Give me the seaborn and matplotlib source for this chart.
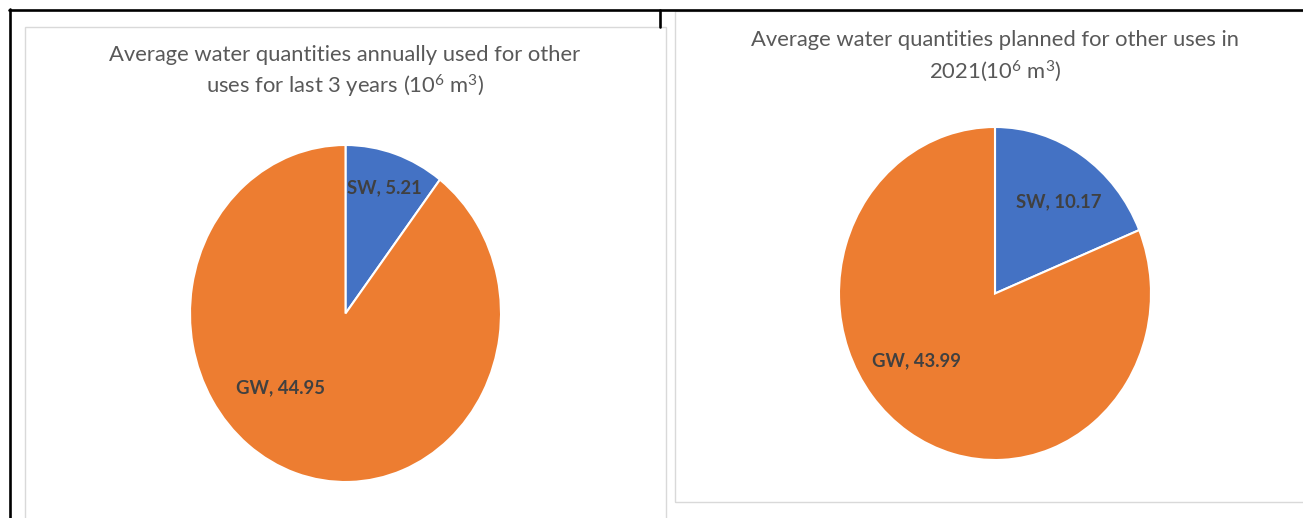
import matplotlib
matplotlib.use("Agg")
import matplotlib.pyplot as plt
from matplotlib.patches import Rectangle
from matplotlib.lines import Line2D
import seaborn as sns

sns.set_theme(style="white")
plt.rcParams["font.family"] = ["Lato", "DejaVu Sans"]
plt.rcParams["mathtext.fontset"] = "custom"
plt.rcParams["mathtext.rm"] = "Lato"
plt.rcParams["mathtext.default"] = "regular"

# Data
categories = ["SW", "GW"]
used_last_3_years = [5.21, 44.95]
planned_2021 = [10.17, 43.99]
titles = [
    ["Average water quantities annually used for other",
     "uses for last 3 years (10$^{6}$ m$^{3}$)"],
    ["Average water quantities planned for other uses in",
     "2021(10$^{6}$ m$^{3}$)"],
]

palette = sns.color_palette(["#4472C4", "#ED7D31"])

W, H = 1303, 518
fig = plt.figure(figsize=(W / 100, H / 100), dpi=100)
fig.patch.set_facecolor("white")


def fx(px):
    return px / W


def fy(py):
    return 1 - py / H


# Outer frame lines
fig.add_artist(Line2D([fx(9), fx(1303)], [fy(10), fy(10)], color="black", lw=1.9))
fig.add_artist(Line2D([fx(10), fx(10)], [fy(9), fy(520)], color="black", lw=1.9))
fig.add_artist(Line2D([fx(660), fx(660)], [fy(10), fy(27)], color="black", lw=1.9))

# Chart area borders
fig.add_artist(Rectangle((fx(24.5), fy(530)), fx(666) - fx(24.5), fy(26.5) - fy(530),
                         fill=False, edgecolor="#D9D9D9", lw=1.0))
fig.add_artist(Rectangle((fx(674.5), fy(502)), fx(1310) - fx(674.5), fy(11) - fy(502),
                         fill=False, edgecolor="#D9D9D9", lw=1.0))

# Pie layout (pixel boxes) and label placement inside each pie
pie_boxes = [(190, 145, 501, 482), (839, 127, 1151, 460)]
label_xy = [[(0.25, 0.745), (-0.415, -0.442)], [(0.41, 0.55), (-0.506, -0.405)]]
title_baselines = [(61, 93), (46, 78)]
title_x = [345, 995]
series = [used_last_3_years, planned_2021]

for vals, box, lxy, title, tx, tys in zip(series, pie_boxes, label_xy, titles,
                                         title_x, title_baselines):
    x0, y0, x1, y1 = box
    ax = fig.add_axes([fx(x0), fy(y1), fx(x1) - fx(x0), fy(y0) - fy(y1)])
    wedges, _ = ax.pie(vals, colors=palette, startangle=90, counterclock=False,
                       wedgeprops=dict(edgecolor="white", linewidth=1.5))
    ax.set_aspect("auto")
    ax.set_xlim(-1, 1)
    ax.set_ylim(-1, 1)
    ax.axis("off")
    for cat, v, (lx, ly) in zip(categories, vals, lxy):
        ax.text(lx, ly, f"{cat}, {v:.2f}", ha="center", va="center",
                fontsize=13.3, fontweight="bold", color="#404040")
    for line, ty in zip(title, tys):
        fig.text(fx(tx), fy(ty), line, ha="center", va="baseline",
                 fontsize=15.8, color="#595959")

fig.savefig("out.png", dpi=100, facecolor="white")
